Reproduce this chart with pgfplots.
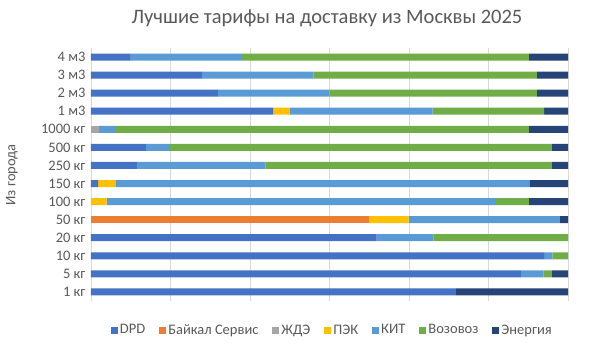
\documentclass[border=0pt]{standalone}
\usepackage{pgfplots}
\pgfplotsset{compat=1.18}
\usepackage{fontspec}
\setmainfont{Carlito}
\definecolor{cDPD}{HTML}{4472C4}
\definecolor{cBai}{HTML}{ED7D31}
\definecolor{cZhde}{HTML}{A5A5A5}
\definecolor{cPek}{HTML}{FFC000}
\definecolor{cKit}{HTML}{5B9BD5}
\definecolor{cVoz}{HTML}{70AD47}
\definecolor{cEn}{HTML}{264478}
\definecolor{txt}{HTML}{595959}
\definecolor{gridc}{HTML}{D9D9D9}
\begin{document}
\begin{tikzpicture}
\path[use as bounding box] (0,0) rectangle (589pt,352pt);
\node[text=txt,font=\fontsize{20.5}{24}\selectfont] at (327pt,334pt) {Лучшие тарифы на доставку из Москвы 2025};
\node[text=txt,font=\fontsize{14.5}{17}\selectfont,rotate=90] at (12pt,177pt) {Из города};
\begin{axis}[
  at={(91pt,51pt)}, anchor=south west,
  scale only axis, width=477pt, height=253pt,
  xbar stacked, bar width=7pt,
  xmin=0, xmax=100, ymin=-0.5, ymax=13.5,
  xtick={0,16.6667,33.3333,50,66.6667,83.3333,100},
  xticklabels={},
  xmajorgrids, major grid style={gridc, line width=0.6pt},
  ytick={0,...,13},
  yticklabels={1 кг,5 кг,10 кг,20 кг,50 кг,100 кг,150 кг,250 кг,500 кг,1000 кг,1 м3,2 м3,3 м3,4 м3},
  yticklabel style={text=txt,font=\fontsize{14.5}{17}\selectfont, xshift=-2pt},
  major tick length=0pt,
  axis lines*=left,
  x axis line style={draw=none},
  y axis line style={draw=gridc},
  legend columns=7,
  legend style={at={(0.506,-0.115)}, anchor=center, draw=none, fill=none,
    font=\fontsize{14.5}{17}\selectfont, text=txt,
    /tikz/every even column/.append style={column sep=12pt}},
  legend image code/.code={\fill[#1] (0pt,-3.5pt) rectangle (7pt,3.5pt);},
]
\addplot[fill=cDPD,draw=none] coordinates {(76.5,0) (90.1,1) (95.0,2) (59.9,3) (0,4) (0,5) (1.5,6) (9.8,7) (11.5,8) (0,9) (38.2,10) (26.6,11) (23.3,12) (8.2,13)};
\addplot[fill=cBai,draw=none] coordinates {(0,0) (0,1) (0,2) (0,3) (58.3,4) (0,5) (0,6) (0,7) (0,8) (0,9) (0,10) (0,11) (0,12) (0,13)};
\addplot[fill=cZhde,draw=none] coordinates {(0,0) (0,1) (0,2) (0,3) (0,4) (0,5) (0,6) (0,7) (0,8) (1.6,9) (0,10) (0,11) (0,12) (0,13)};
\addplot[fill=cPek,draw=none] coordinates {(0,0) (0,1) (0,2) (0,3) (8.3,4) (3.3,5) (3.6,6) (0,7) (0,8) (0,9) (3.5,10) (0,11) (0,12) (0,13)};
\addplot[fill=cKit,draw=none] coordinates {(0,0) (4.8,1) (1.7,2) (11.9,3) (31.7,4) (81.6,5) (86.8,6) (26.8,7) (4.9,8) (3.4,9) (29.9,10) (23.4,11) (23.3,12) (23.5,13)};
\addplot[fill=cVoz,draw=none] coordinates {(0,0) (1.7,1) (3.3,2) (28.2,3) (0,4) (6.9,5) (0,6) (60.0,7) (80.2,8) (86.8,9) (23.4,10) (43.5,11) (46.9,12) (60.1,13)};
\addplot[fill=cEn,draw=none] coordinates {(23.5,0) (3.4,1) (0,2) (0,3) (1.7,4) (8.2,5) (8.1,6) (3.4,7) (3.4,8) (8.2,9) (5.0,10) (6.5,11) (6.5,12) (8.2,13)};
\legend{DPD,Байкал Сервис,ЖДЭ,ПЭК,КИТ,Возовоз,Энергия}
\end{axis}
\end{tikzpicture}
\end{document}
